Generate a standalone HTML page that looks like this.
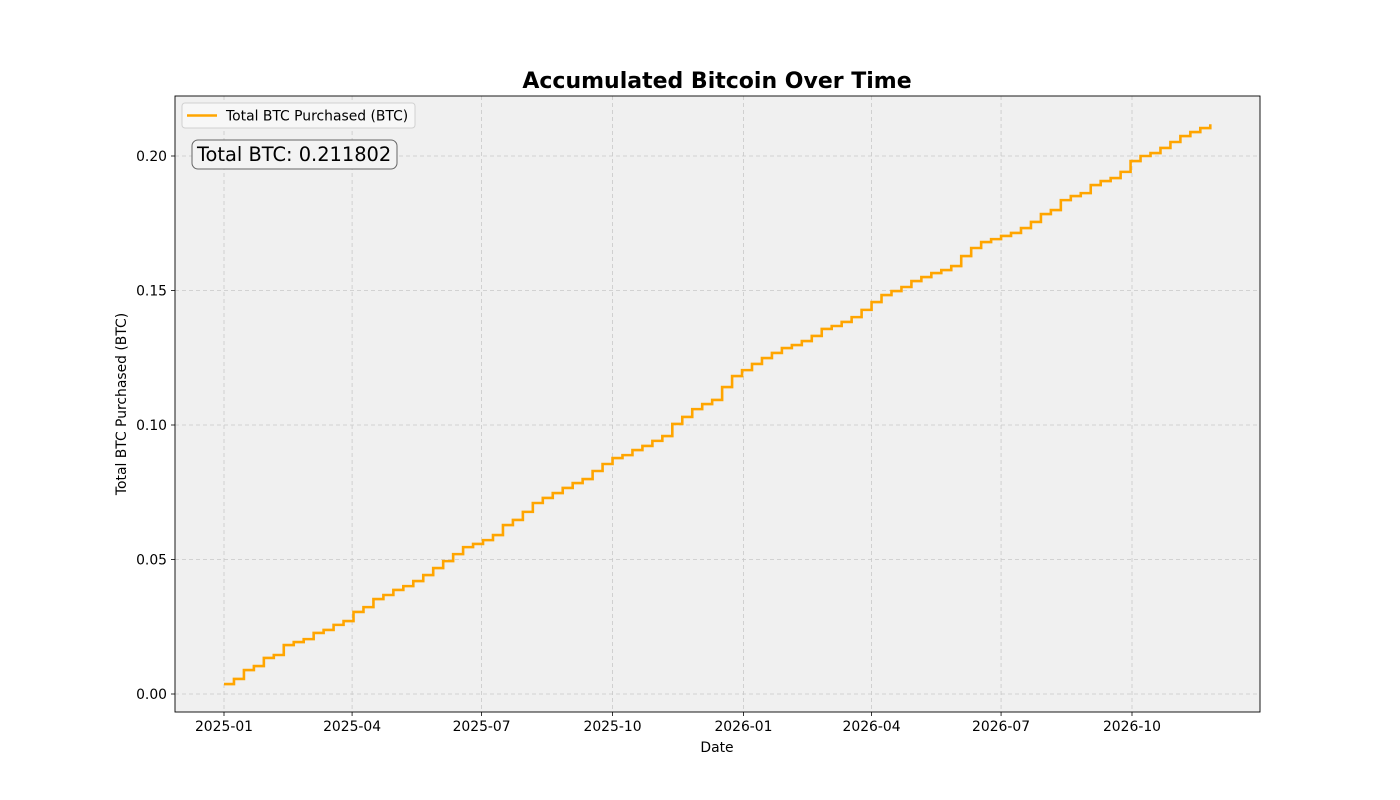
<!DOCTYPE html>
<html><head><meta charset="utf-8"><style>
body{margin:0;background:#fff;font-family:"DejaVu Sans","Liberation Sans",sans-serif}
svg{display:block}
</style></head><body>
<svg id="chart" width="1400" height="800" font-family="DejaVu Sans, Liberation Sans, sans-serif"></svg>
<script>
const startDate = "2025-01-01";
const weeklyTotals = [
0.0037,0.0056,0.0089,0.0104,0.0134,0.0145,0.0182,0.0193,0.0204,0.0227,0.0238,0.0257,0.0271,0.0305,0.0323,0.0353,0.0368,0.0387,0.0401,0.0420,0.0442,0.0468,
0.0494,0.0520,0.0546,0.0558,0.0572,0.0591,0.0628,0.0647,0.0677,0.0710,0.0729,0.0747,0.0766,0.0784,0.0799,0.0829,0.0855,0.0877,0.0888,0.0907,0.0922,0.0941,0.0959,
0.1004,0.1030,0.1059,0.1078,0.1093,0.1141,0.1182,0.1204,0.1227,0.1249,0.1268,0.1286,0.1297,0.1312,0.1331,0.1357,0.1368,0.1383,0.1401,0.1428,0.1457,0.1483,
0.1498,0.1513,0.1535,0.1550,0.1565,0.1576,0.1591,0.1628,0.1658,0.1680,0.1691,0.1703,0.1714,0.1732,0.1755,0.1784,0.1799,0.1836,0.1851,0.1862,0.1892,0.1907,0.1918,
0.1941,0.1981,0.2000,0.2011,0.2030,0.2052,0.2074,0.2089,0.2104,0.211802];
const xTickDates = ["2025-01-01","2025-04-01","2025-07-01","2025-10-01","2026-01-01","2026-04-01","2026-07-01","2026-10-01"];
const xTickLabels = ["2025-01","2025-04","2025-07","2025-10","2026-01","2026-04","2026-07","2026-10"];
const yTicks = [0,0.05,0.10,0.15,0.20];
const yTickLabels = ["0.00","0.05","0.10","0.15","0.20"];
const totalLabel = "Total BTC: 0.211802";

const NS="http://www.w3.org/2000/svg";
const svg=document.getElementById('chart');
const L=175,R=1260,T=96,B=712;
const d0=Date.parse(startDate);
function dayOf(s){return (Date.parse(s)-d0)/86400000;}
function xs(day){return 224+day*(908/638);}
function ys(v){return 694-v*2690;}
function el(tag,attrs,parent){const e=document.createElementNS(NS,tag);for(const k in attrs)e.setAttribute(k,attrs[k]);(parent||svg).appendChild(e);return e;}

const bg=el('rect',{x:L,y:T,width:R-L,height:B-T,fill:'#f0f0f0'});



xTickDates.forEach((d,i)=>{
  const x=xs(dayOf(d));
  const g=el('line',{x1:x,x2:x,y1:T,y2:B,stroke:'#c8c8c8','stroke-dasharray':'4,3','stroke-width':0.8});
  
  
  el('line',{x1:x,x2:x,y1:B,y2:B+4,stroke:'#000','stroke-width':0.8});
  const t=el('text',{x:x,y:B+19,'font-size':13.9,'text-anchor':'middle',fill:'#000'});
  t.textContent=xTickLabels[i];
  
  
});
yTicks.forEach((v,i)=>{
  const y=ys(v);
  const g=el('line',{x1:L,x2:R,y1:y,y2:y,stroke:'#c8c8c8','stroke-dasharray':'4,3','stroke-width':0.8});
  
  
  el('line',{x1:L-4,x2:L,y1:y,y2:y,stroke:'#000','stroke-width':0.8});
  const t=el('text',{x:L-8,y:y+5,'font-size':13.9,'text-anchor':'end',fill:'#000'});
  t.textContent=yTickLabels[i];
  
  
});

let p='';
weeklyTotals.forEach((v,i)=>{
  const x=xs(i*7),y=ys(v);
  if(i===0)p+='M'+x+','+y;
  else p+=' H'+x+' V'+y;
});
const line=el('path',{d:p,fill:'none',stroke:'#ffa500','stroke-width':2.6});



const frame=el('rect',{x:L,y:T,width:R-L,height:B-T,fill:'none',stroke:'#000','stroke-width':0.9});



const title=el('text',{x:717,y:88,'font-size':22,'font-weight':'bold','text-anchor':'middle'});
title.textContent='Accumulated Bitcoin Over Time';



const xl=el('text',{x:717,y:752,'font-size':13.9,'text-anchor':'middle'});
xl.textContent='Date';



const yl=el('text',{x:0,y:0,'font-size':13.9,'text-anchor':'middle',transform:'translate(126,404) rotate(-90)'});
yl.textContent='Total BTC Purchased (BTC)';



const lg=el('g',{});


el('rect',{x:182,y:103,width:233,height:25,rx:3,fill:'#f7f7f7',stroke:'#d0d0d0','stroke-width':1},lg);
el('line',{x1:187,x2:217,y1:115.5,y2:115.5,stroke:'#ffa500','stroke-width':2.6},lg);
const lt=el('text',{x:226,y:120.5,'font-size':13.9},lg);
lt.textContent='Total BTC Purchased (BTC)';



const tb=el('g',{});


el('rect',{x:192,y:140,width:205,height:29,rx:6,fill:'#f3f3f3',stroke:'#666','stroke-width':1},tb);
const tt=el('text',{x:197,y:161,'font-size':19.4},tb);
tt.textContent=totalLabel;
</script>
</body></html>
